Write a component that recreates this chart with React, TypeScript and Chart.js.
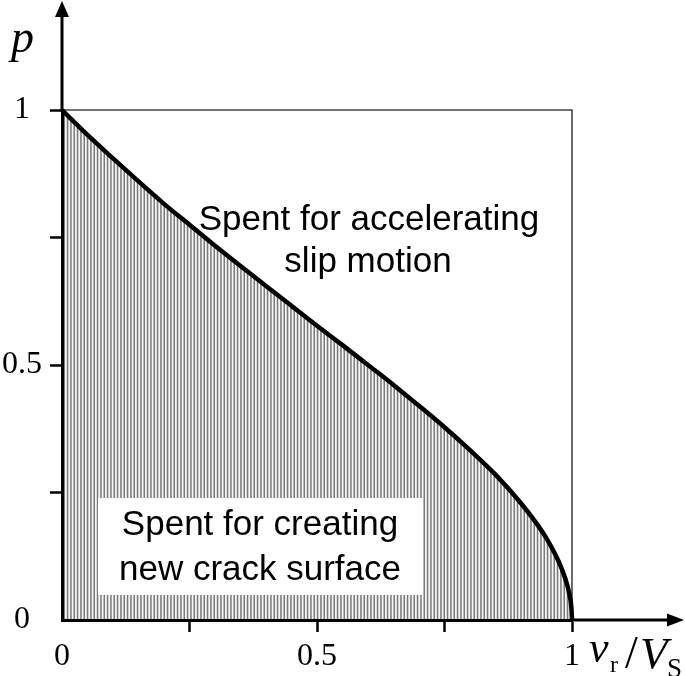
import React, { useEffect, useRef } from "react";
import { Chart, registerables } from "chart.js";

Chart.register(...registerables);

// Curve: share of energy p vs rupture velocity ratio vr/VS
const vrRatio = [0, 0.05, 0.1, 0.15, 0.2, 0.25, 0.3, 0.35, 0.4, 0.45, 0.5, 0.55, 0.6, 0.65, 0.7, 0.75, 0.8, 0.85, 0.9, 0.93, 0.95, 0.97, 0.98, 0.99, 0.995, 0.999, 1.0];
const pValues = [1, 0.951, 0.905, 0.86, 0.816, 0.775, 0.734, 0.694, 0.655, 0.616, 0.577, 0.539, 0.5, 0.461, 0.42, 0.378, 0.333, 0.285, 0.229, 0.19, 0.16, 0.123, 0.1, 0.071, 0.05, 0.022, 0];

const tickValues = [0, 0.25, 0.5, 0.75, 1];
const tickLabels = ["0", "", "0.5", "", "1"];

const upperText = ["Spent for accelerating", "slip motion"];
const lowerText = ["Spent for creating", "new crack surface"];

const SERIF = "'Liberation Serif', 'Times New Roman', serif";
const SANS = "'Liberation Sans', Arial, sans-serif";

export default function App() {
  const ref = useRef<HTMLCanvasElement>(null);

  useEffect(() => {
    document.body.style.margin = "0";
    const canvas = ref.current!;

    // hatch pattern of vertical lines
    const tile = document.createElement("canvas");
    tile.width = 10;
    tile.height = 4;
    const tctx = tile.getContext("2d")!;
    tctx.fillStyle = "#f4f4f4";
    tctx.fillRect(0, 0, 10, 4);
    tctx.fillStyle = "#7a7a7a";
    [0.2, 3.5, 6.8].forEach((x) => tctx.fillRect(x, 0, 1.5, 4));
    const pattern = canvas.getContext("2d")!.createPattern(tile, "repeat")!;

    const decor = {
      id: "decor",
      beforeDatasetsDraw(chart: any) {
        const { ctx, chartArea: a } = chart;
        ctx.save();
        ctx.strokeStyle = "#444";
        ctx.lineWidth = 1.6;
        ctx.beginPath();
        ctx.moveTo(a.left, a.top);
        ctx.lineTo(a.right, a.top);
        ctx.lineTo(a.right, a.bottom);
        ctx.stroke();
        ctx.restore();
      },
      afterDatasetsDraw(chart: any) {
        const { ctx } = chart;
        const xs = chart.scales.x;
        const ys = chart.scales.y;
        ctx.save();
        // white label box
        ctx.fillStyle = "#fff";
        ctx.fillRect(98, 498, 325, 97);
        ctx.fillStyle = "#000";
        ctx.font = `35px ${SANS}`;
        ctx.textAlign = "center";
        ctx.textBaseline = "alphabetic";
        ctx.fillText(lowerText[0], 260, 535);
        ctx.fillText(lowerText[1], 260, 580);
        ctx.fillText(upperText[0], 369, 230);
        ctx.fillText(upperText[1], 368, 272);

        // axes extensions and arrows
        const x0 = xs.getPixelForValue(0);
        const y0 = ys.getPixelForValue(0);
        const x1 = xs.getPixelForValue(1);
        const y1 = ys.getPixelForValue(1);
        ctx.strokeStyle = "#000";
        ctx.lineWidth = 3;
        ctx.beginPath();
        ctx.moveTo(x1, y0);
        ctx.lineTo(670, y0);
        ctx.moveTo(x0, y1);
        ctx.lineTo(x0, 14);
        ctx.stroke();
        ctx.beginPath();
        ctx.moveTo(684, y0);
        ctx.lineTo(667, y0 - 6.5);
        ctx.lineTo(667, y0 + 6.5);
        ctx.closePath();
        ctx.moveTo(x0, 1);
        ctx.lineTo(x0 - 7, 17);
        ctx.lineTo(x0 + 7, 17);
        ctx.closePath();
        ctx.fill();

        // axis titles
        ctx.textAlign = "left";
        ctx.font = `italic 46px ${SERIF}`;
        ctx.fillText("p", 11, 52);
        ctx.font = `italic 44px ${SERIF}`;
        ctx.fillText("v", 589, 662);
        ctx.font = `24px ${SERIF}`;
        ctx.fillText("r", 610, 672);
        ctx.font = `46px ${SERIF}`;
        ctx.fillText("/", 625, 668);
        ctx.font = `italic 45px ${SERIF}`;
        ctx.fillText("V", 640, 668);
        ctx.font = `27px ${SERIF}`;
        ctx.fillText("S", 667, 677);
        ctx.restore();
      },
    };

    const tickColor = (c: any) => (c.tick && c.tick.value === 0 ? "rgba(0,0,0,0)" : "#000");

    const chart = new Chart(canvas, {
      type: "line",
      data: {
        datasets: [
          {
            data: vrRatio.map((x, i) => ({ x, y: pValues[i] })),
            borderColor: "#000",
            borderWidth: 4.5,
            backgroundColor: pattern,
            fill: "origin",
            pointRadius: 0,
            cubicInterpolationMode: "monotone",
            clip: false as any,
          },
        ],
      },
      options: {
        animation: false,
        responsive: false,
        devicePixelRatio: 1,
        layout: { padding: { top: 110, right: 113, left: 0, bottom: 0 } },
        plugins: { legend: { display: false }, tooltip: { enabled: false } },
        scales: {
          x: {
            type: "linear",
            min: 0,
            max: 1,
            afterFit: (s: any) => {
              s.height = 56;
            },
            afterBuildTicks: (s: any) => {
              s.ticks = tickValues.map((v) => ({ value: v }));
            },
            ticks: {
              callback: (v: any) => tickLabels[tickValues.indexOf(Number(v))] ?? "",
              font: { family: SERIF, size: 32 },
              color: "#000",
              padding: 5,
              maxRotation: 0,
              autoSkip: false,
            },
            grid: { drawOnChartArea: false, drawTicks: true, tickLength: 12, tickWidth: 2.5, color: tickColor },
            border: { display: true, color: "#000", width: 3, z: 1 },
          },
          y: {
            type: "linear",
            min: 0,
            max: 1,
            afterFit: (s: any) => {
              s.width = 62;
            },
            afterBuildTicks: (s: any) => {
              s.ticks = tickValues.map((v) => ({ value: v }));
            },
            ticks: {
              callback: (v: any) => tickLabels[tickValues.indexOf(Number(v))] ?? "",
              font: { family: SERIF, size: 32 },
              color: "#000",
              padding: 8,
              crossAlign: "center",
              autoSkip: false,
            },
            grid: { drawOnChartArea: false, drawTicks: true, tickLength: 12, tickWidth: 2.5, color: tickColor },
            border: { display: true, color: "#000", width: 3, z: 1 },
          },
        },
      },
      plugins: [decor],
    });
    return () => chart.destroy();
  }, []);

  return <canvas ref={ref} width={685} height={676} style={{ display: "block" }} />;
}
